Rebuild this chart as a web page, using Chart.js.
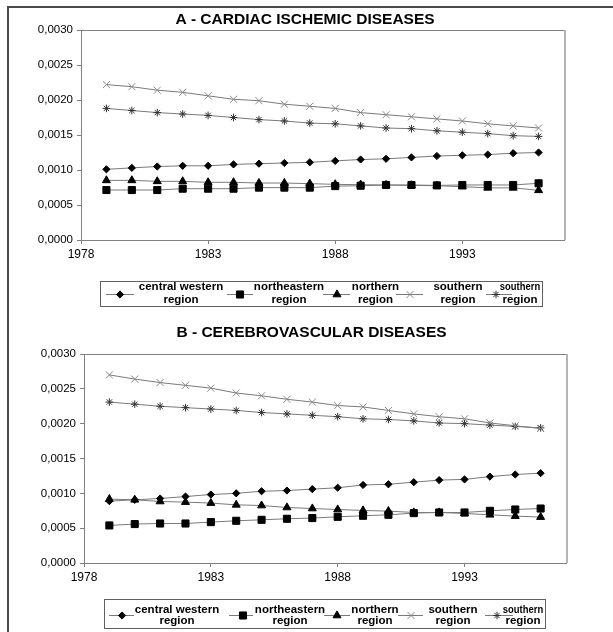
<!DOCTYPE html>
<html><head><meta charset="utf-8">
<script src="https://cdn.jsdelivr.net/npm/chart.js@4"></script>
<style>
html,body{margin:0;padding:0;background:#fff;}
#wrap{position:relative;width:613px;height:632px;overflow:hidden;}
#frame{position:absolute;left:7px;top:6px;width:640px;height:660px;border-left:2px solid #4a4a4a;border-top:2px solid #4a4a4a;}
canvas{position:absolute;left:0;}
</style></head><body>
<div id="wrap"><div id="frame"></div>
<canvas id="cA" width="613" height="316" style="top:0"></canvas>
<canvas id="cB" width="613" height="316" style="top:316px"></canvas>
</div>
<script>
const years = [1979,1980,1981,1982,1983,1984,1985,1986,1987,1988,1989,1990,1991,1992,1993,1994,1995,1996];
const xTickYears = [1978,1983,1988,1993];
const yTickValues = [0,0.0005,0.001,0.0015,0.002,0.0025,0.003];
const seriesNames = ['central western region','northeastern region','northern region','southern region','southern region'];
const titleA = 'A - CARDIAC ISCHEMIC DISEASES';
const titleB = 'B - CEREBROVASCULAR DISEASES';

// A - cardiac ischemic
const cardiacCentralWestern = [0.00101,0.00103,0.00105,0.00106,0.00106,0.00108,0.00109,0.00110,0.00111,0.00113,0.00115,0.00116,0.00118,0.00120,0.00121,0.00122,0.00124,0.00125];
const cardiacNortheastern   = [0.000714,0.000714,0.000714,0.000733,0.000733,0.000733,0.000748,0.000748,0.000748,0.00077,0.000775,0.000786,0.000786,0.00078,0.000786,0.000786,0.000786,0.00081];
const cardiacNorthern       = [0.000852,0.000852,0.000838,0.000838,0.000824,0.000824,0.000814,0.000814,0.000805,0.000795,0.00079,0.000785,0.00078,0.000775,0.000762,0.000745,0.000745,0.00071];
const cardiacSouthernX      = [0.00222,0.00219,0.00214,0.00211,0.00206,0.00201,0.00199,0.00194,0.00191,0.00188,0.00182,0.00179,0.00176,0.00173,0.00170,0.00166,0.00163,0.00160];
const cardiacSouthernStar   = [0.00188,0.00185,0.00182,0.00180,0.00178,0.00175,0.00172,0.00170,0.00167,0.00166,0.00163,0.00160,0.00159,0.00156,0.00154,0.00152,0.00149,0.00148];

// B - cerebrovascular
const cerebroCentralWestern = [0.000888,0.000907,0.000926,0.000954,0.000983,0.00100,0.00103,0.00104,0.00106,0.00108,0.00112,0.00113,0.00116,0.00119,0.00120,0.00124,0.00127,0.00129];
const cerebroNortheastern   = [0.000539,0.000559,0.000567,0.000567,0.000587,0.000606,0.00062,0.000635,0.000645,0.000663,0.000678,0.000692,0.000716,0.000725,0.000725,0.000749,0.000768,0.000782];
const cerebroNorthern       = [0.000917,0.000907,0.000883,0.000874,0.00086,0.000835,0.000825,0.000797,0.000782,0.000768,0.000754,0.000745,0.000725,0.000725,0.000711,0.000692,0.000673,0.000659];
const cerebroSouthernX      = [0.00270,0.00264,0.00259,0.00255,0.00251,0.00244,0.00240,0.00235,0.00231,0.00226,0.00224,0.00219,0.00214,0.00210,0.00207,0.00201,0.00197,0.00193];
const cerebroSouthernStar   = [0.00231,0.00228,0.00225,0.00223,0.00221,0.00219,0.00216,0.00214,0.00212,0.00210,0.00207,0.00206,0.00204,0.00201,0.00200,0.00198,0.00196,0.00194];

const FONT = '"Liberation Sans", Arial, sans-serif';
const styles = [
  {pointStyle:'rectRot', pointRadius:3.6, fill:'#000', stroke:'#000'},
  {pointStyle:'rect', pointRadius:5, fill:'#000', stroke:'#000'},
  {pointStyle:'triangle', pointRadius:4.6, fill:'#000', stroke:'#000'},
  {pointStyle:'crossRot', pointRadius:5, fill:'#808080', stroke:'#8a8a8a'},
  {pointStyle:'star', pointRadius:3.8, fill:'#333', stroke:'#333'}
];

function buildDatasets(seriesList){
  return seriesList.map((vals,i)=>({
    label: seriesNames[i],
    data: years.map((yr,j)=>({x:yr, y:vals[j]})),
    borderColor:'#7a7a7a', borderWidth:1,
    pointStyle: styles[i].pointStyle, pointRadius: styles[i].pointRadius,
    pointBackgroundColor: styles[i].fill, pointBorderColor: styles[i].stroke, pointBorderWidth:1,
    fill:false, tension:0
  }));
}

function drawMarker(ctx, style, radius, x, y){
  if (Chart.helpers && Chart.helpers.drawPoint) {
    Chart.helpers.drawPoint(ctx, {pointStyle:style, radius:radius, rotation:0, borderWidth:1}, x, y);
  }
}

const panelDecor = {
  id:'panelDecor',
  afterDraw(chart, args, o){
    const ctx = chart.ctx, a = chart.chartArea;
    ctx.save();
    ctx.strokeStyle = '#808080'; ctx.lineWidth = 1;
    ctx.beginPath(); ctx.moveTo(a.left, Math.round(a.top)+0.5); ctx.lineTo(a.right+1, Math.round(a.top)+0.5); ctx.stroke();
    ctx.strokeStyle = '#b4b4b4'; ctx.lineWidth = 2;
    ctx.beginPath(); ctx.moveTo(Math.round(a.right)+1, a.top); ctx.lineTo(Math.round(a.right)+1, a.bottom); ctx.stroke();
    ctx.fillStyle = '#000'; ctx.font = 'bold 15.5px ' + FONT;
    ctx.textAlign = 'center'; ctx.textBaseline = 'middle';
    ctx.fillText(o.title, o.titleX, o.titleY);
    const L = o.legend;
    ctx.strokeStyle = '#606060'; ctx.lineWidth = 1;
    ctx.strokeRect(L.x+0.5, L.y+0.5, L.w, L.h);
    chart.data.datasets.forEach((ds,i)=>{
      const it = L.items[i];
      ctx.strokeStyle = ds.borderColor; ctx.lineWidth = 1;
      ctx.beginPath(); ctx.moveTo(it.x1, L.lineY+0.5); ctx.lineTo(it.x2, L.lineY+0.5); ctx.stroke();
      ctx.fillStyle = ds.pointBackgroundColor; ctx.strokeStyle = ds.pointBorderColor;
      drawMarker(ctx, ds.pointStyle, ds.pointRadius, it.mx, L.lineY+0.5);
      const sp = ds.label.lastIndexOf(' ');
      const lines = [ds.label.slice(0,sp), ds.label.slice(sp+1)];
      ctx.fillStyle = '#000'; ctx.font = 'bold 11.5px ' + FONT;
      ctx.textAlign = 'center'; ctx.textBaseline = 'middle';
      lines.forEach((t,k)=>{
        const ty = k===0 ? L.row1 : L.row2;
        const sx = (k===0 && it.sx1) ? it.sx1 : 1;
        ctx.save(); ctx.translate(it.tx, ty); ctx.scale(sx,1); ctx.fillText(t, 0, 0); ctx.restore();
      });
    });
    ctx.restore();
  }
};

function makeChart(id, seriesList, cfg){
  return new Chart(document.getElementById(id), {
    type:'line',
    data:{datasets: buildDatasets(seriesList)},
    plugins:[panelDecor],
    options:{
      responsive:false, animation:false, events:[],
      layout:{padding:cfg.padding},
      plugins:{legend:{display:false}, tooltip:{enabled:false}, title:{display:false},
        panelDecor:{title:cfg.title, titleX:cfg.titleX, titleY:cfg.titleY, legend:cfg.legend}},
      scales:{
        x:{type:'linear', min:1978, max:1997,
          afterBuildTicks:s=>{ s.ticks = xTickYears.map(v=>({value:v})); },
          afterFit:s=>{ s.height = 30; },
          ticks:{callback:v=>String(v), color:'#000', font:{size:12, family:FONT}, padding:3, maxRotation:0, autoSkip:false},
          grid:{drawOnChartArea:false, drawTicks:true, tickLength:4, color:'#808080'},
          border:{display:true, color:'#808080', width:1}
        },
        y:{type:'linear', min:0, max:0.003,
          afterBuildTicks:s=>{ s.ticks = yTickValues.map(v=>({value:v})); },
          afterFit:s=>{ s.width = cfg.yWidth; },
          ticks:{callback:v=>Number(v).toFixed(4).replace('.',','), color:'#000', font:{size:11.5, family:FONT}, padding:4, autoSkip:false},
          grid:{drawOnChartArea:false, drawTicks:true, tickLength:4, color:'#808080'},
          border:{display:true, color:'#808080', width:1}
        }
      }
    }
  });
}

makeChart('cA', [cardiacCentralWestern, cardiacNortheastern, cardiacNorthern, cardiacSouthernX, cardiacSouthernStar], {
  padding:{left:0, top:30, right:49, bottom:46}, yWidth:81,
  title:titleA, titleX:305, titleY:20,
  legend:{x:100, y:281, w:442, h:25, lineY:294, row1:287, row2:299.5,
    items:[{x1:106,x2:134,mx:120,tx:181},{x1:227,x2:253,mx:240,tx:289},{x1:323,x2:350,mx:337,tx:375.5},{x1:396,x2:423,mx:410,tx:458},{x1:486,x2:512,mx:496,tx:520,sx1:0.82}]}
});
makeChart('cB', [cerebroCentralWestern, cerebroNortheastern, cerebroNorthern, cerebroSouthernX, cerebroSouthernStar], {
  padding:{left:0, top:38, right:47, bottom:39}, yWidth:84,
  title:titleB, titleX:311.5, titleY:17,
  legend:{x:104, y:283, w:441, h:29, lineY:299, row1:294, row2:305,
    items:[{x1:109,x2:134,mx:122,tx:177},{x1:229,x2:253,mx:243,tx:290},{x1:324,x2:350,mx:337,tx:375},{x1:398,x2:423,mx:411,tx:453},{x1:485,x2:513,mx:497,tx:523,sx1:0.82}]}
});
</script>
</body></html>
